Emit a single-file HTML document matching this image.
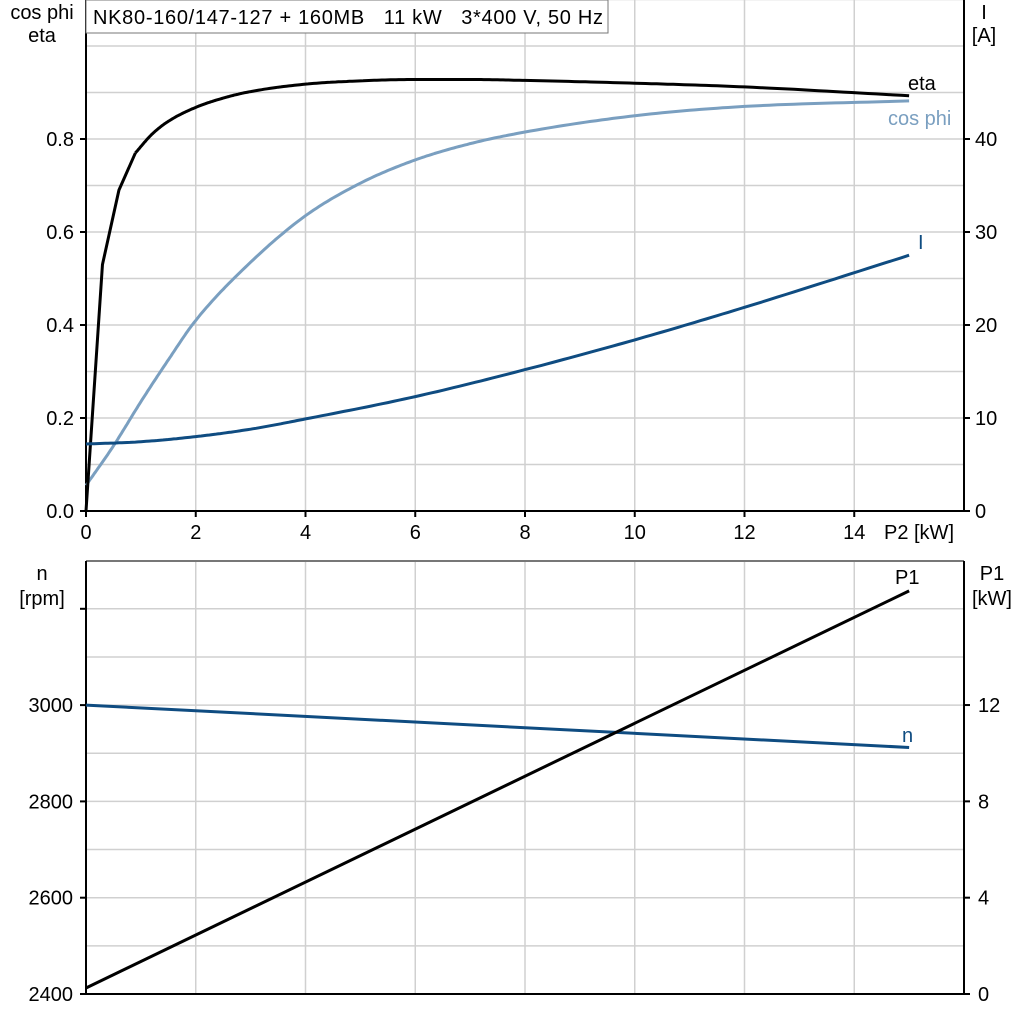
<!DOCTYPE html>
<html><head><style>body{margin:0;background:#fff}svg text{font-family:"Liberation Sans",Arial,sans-serif;font-size:20px}</style></head>
<body>
<svg id="s" width="1024" height="1024" xmlns="http://www.w3.org/2000/svg"></svg>
<script>
const s=document.getElementById('s');let h='';
const X=p=>86+p*54.875;
const Yt=v=>511-v*465, Yi=a=>511-a*9.3, Yn=n=>994-(n-2400)*0.4815, Yp=k=>994-k*24.08;
for(let i=1;i<=8;i++){const x=X(i*2);h+=`<line x1="${x}" y1="0" x2="${x}" y2="511" stroke="#d0d0d0" stroke-width="1.5"/><line x1="${x}" y1="561" x2="${x}" y2="994" stroke="#d0d0d0" stroke-width="1.5"/>`;}
for(let i=1;i<=11;i++){const y=Yt(i*0.1);h+=`<line x1="86" y1="${y}" x2="964" y2="${y}" stroke="#d0d0d0" stroke-width="1.5"/>`;}
for(let i=1;i<=8;i++){const y=Yn(2400+i*100);h+=`<line x1="86" y1="${y}" x2="964" y2="${y}" stroke="#d0d0d0" stroke-width="1.5"/>`;}
h+=`<line x1="86" y1="561" x2="964" y2="561" stroke="#777" stroke-width="2"/>`;
h+=`<path d="M86 0V511H964V0M86 561V994H964V561" fill="none" stroke="#000" stroke-width="2"/>`;
for(let i=0;i<=4;i++){const y=Yt(i*0.2);h+=`<line x1="80" y1="${y}" x2="86" y2="${y}" stroke="#000" stroke-width="2"/><text x="74" y="${y+7}" text-anchor="end">${(i*0.2).toFixed(1)}</text>`;}
for(let i=0;i<=4;i++){const y=Yi(i*10);h+=`<line x1="964" y1="${y}" x2="970" y2="${y}" stroke="#000" stroke-width="2"/><text x="975" y="${y+7}">${i*10}</text>`;}
for(let i=0;i<=7;i++){const x=X(i*2);h+=`<line x1="${x}" y1="511" x2="${x}" y2="517" stroke="#000" stroke-width="2"/><text x="${x}" y="539" text-anchor="middle">${i*2}</text>`;}
h+=`<text x="919" y="539" text-anchor="middle">P2 [kW]</text>`;
h+=`<text x="42" y="19" text-anchor="middle">cos phi</text><text x="42" y="42" text-anchor="middle">eta</text>`;
h+=`<text x="984" y="19" text-anchor="middle">I</text><text x="984" y="42" text-anchor="middle">[A]</text>`;
h+=`<rect x="86" y="0" width="522" height="33" fill="#fff" stroke="#777" stroke-width="1"/><text x="93" y="24" textLength="510">NK80-160/147-127 + 160MB&#160;&#160; 11 kW&#160;&#160; 3*400 V, 50 Hz</text>`;
for(let i=0;i<=6;i+=2){const n=2400+i*100,y=Yn(n);h+=`<line x1="80" y1="${y}" x2="86" y2="${y}" stroke="#000" stroke-width="2"/><text x="73" y="${y+7}" text-anchor="end">${n}</text>`;}
h+=`<line x1="80" y1="${Yn(3200)}" x2="86" y2="${Yn(3200)}" stroke="#000" stroke-width="2"/>`;
for(let i=0;i<=3;i++){const y=Yp(i*4);h+=`<line x1="964" y1="${y}" x2="970" y2="${y}" stroke="#000" stroke-width="2"/><text x="978" y="${y+7}">${i*4}</text>`;}
h+=`<text x="42" y="580" text-anchor="middle">n</text><text x="42" y="605" text-anchor="middle">[rpm]</text>`;
h+=`<text x="992" y="580" text-anchor="middle">P1</text><text x="992" y="605" text-anchor="middle">[kW]</text>`;
function mono(P,fx,fy,col){ // Fritsch-Carlson monotone cubic
 const n=P.length,xs=P.map(p=>p[0]),ys=P.map(p=>p[1]);const d=[],m=[];
 for(let i=0;i<n-1;i++)d.push((ys[i+1]-ys[i])/(xs[i+1]-xs[i]));
 m[0]=d[0];m[n-1]=d[n-2];
 for(let i=1;i<n-1;i++){m[i]=(d[i-1]*d[i]<=0)?0:(d[i-1]+d[i])/2;}
 for(let i=0;i<n-1;i++){if(d[i]==0){m[i]=m[i+1]=0;continue;}const a=m[i]/d[i],b=m[i+1]/d[i],t=a*a+b*b;if(t>9){const k=3/Math.sqrt(t);m[i]=k*a*d[i];m[i+1]=k*b*d[i];}}
 let path='';
 for(let i=0;i<n-1;i++){const hh=xs[i+1]-xs[i];for(let j=0;j<20;j++){const t=j/20,t2=t*t,t3=t2*t;
  const y=(2*t3-3*t2+1)*ys[i]+(t3-2*t2+t)*hh*m[i]+(-2*t3+3*t2)*ys[i+1]+(t3-t2)*hh*m[i+1];
  path+=(path?'L':'M')+fx(xs[i]+t*hh).toFixed(1)+' '+fy(y).toFixed(1);}}
 path+='L'+fx(xs[n-1]).toFixed(1)+' '+fy(ys[n-1]).toFixed(1);
 h+=`<path d="${path}" fill="none" stroke="${col}" stroke-width="3" stroke-linejoin="round"/>`;}
mono([[0,0.055],[0.5,0.14],[1,0.235],[1.5,0.325],[2,0.41],[3,0.535],[4,0.635],[5,0.705],[6,0.755],[7,0.79],[8,0.815],[10,0.85],[12,0.87],[15,0.882]],X,Yt,'#7a9fc0');
h+=`<path d="M${X(0)} 511L${X(0.3)} ${Yt(0.53)}L${X(0.6)} ${Yt(0.69)}L${X(0.9)} ${Yt(0.77)}" fill="none" stroke="#000" stroke-width="3"/>`;
mono([[0.9,0.77],[1.2,0.81],[1.5,0.838],[2,0.868],[2.5,0.888],[3,0.902],[4,0.918],[5,0.925],[6,0.928],[7,0.928],[8,0.926],[10,0.92],[12,0.912],[15,0.893]],X,Yt,'#000');
mono([[0,7.2],[1,7.45],[2,8.0],[3,8.8],[4,9.9],[6,12.3],[8,15.2],[10,18.4],[12,21.9],[15,27.5]],X,Yi,'#0f4c81');
h+=`<line x1="${X(0)}" y1="${Yn(3000)}" x2="${X(15)}" y2="${Yn(2912)}" stroke="#0f4c81" stroke-width="3"/>`;
h+=`<line x1="${X(0)}" y1="${Yp(0.25)}" x2="${X(15)}" y2="${Yp(16.74)}" stroke="#000" stroke-width="3"/>`;
h+=`<text x="908" y="90" fill="#000">eta</text><text x="888" y="125" fill="#7a9fc0">cos phi</text><text x="918" y="249" fill="#0f4c81">I</text>`;
h+=`<text x="895" y="584">P1</text><text x="902" y="742" fill="#0f4c81">n</text>`;
s.innerHTML=h;
</script>
</body></html>
